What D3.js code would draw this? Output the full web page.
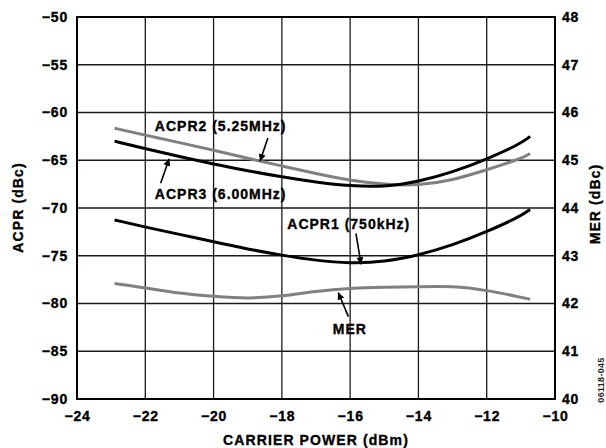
<!DOCTYPE html>
<html><head><meta charset="utf-8">
<script src="https://cdn.jsdelivr.net/npm/d3@7"></script>
<style>
body{margin:0;background:#fff;}
svg text{font-family:"Liberation Sans",Arial,Helvetica,sans-serif;font-weight:bold;}
.hv{stroke:#000;stroke-width:0.35px;}
</style></head>
<body><svg id="c" width="606" height="448"></svg>
<script>
// ---- data ----
const xTicks = [-24,-22,-20,-18,-16,-14,-12,-10];
const yTicks = [-50,-55,-60,-65,-70,-75,-80,-85,-90];
const merTicks = [48,47,46,45,44,43,42,41,40];
const power = [-22.9,-22,-21,-20,-19,-18,-17,-16,-15,-14,-13,-12,-11,-10.73];
const acpr2 = [-61.65,-62.36,-63.15,-63.95,-64.8,-65.6,-66.4,-67.1,-67.55,-67.65,-67.1,-66.0,-64.85,-64.3];
const acpr3 = [-63.0,-63.8,-64.6,-65.4,-66.1,-66.75,-67.3,-67.7,-67.8,-67.25,-66.25,-64.9,-63.25,-62.5];
const acpr1 = [-71.25,-72.0,-72.75,-73.55,-74.3,-74.95,-75.5,-75.8,-75.65,-74.95,-73.9,-72.5,-70.85,-70.14];
const mer   = [42.42,42.33,42.21,42.15,42.1,42.15,42.26,42.32,42.34,42.35,42.37,42.28,42.13,42.09];
const labels = [
  {text:"ACPR2 (5.25MHz)", x:-21.72, y:-61.9},
  {text:"ACPR3 (6.00MHz)", x:-21.72, y:-69.09},
  {text:"ACPR1 (750kHz)",  x:-17.84, y:-72.2},
  {text:"MER",             x:-16.51, y:-83.19}
];
const arrows = [
  {x1:-18.41, y1:-62.67, x2:-18.64, y2:-65.1},
  {x1:-21.55, y1:-67.41, x2:-21.30, y2:-64.85},
  {x1:-15.83, y1:-72.65, x2:-15.68, y2:-75.9},
  {x1:-16.05, y1:-81.38, x2:-16.35, y2:-78.85}
];

// ---- layout ----
const svg = d3.select("#c");
const L=77, R=555, T=17, B=399;
const x = d3.scaleLinear().domain([-24,-10]).range([L,R]);
const y = d3.scaleLinear().domain([-90,-50]).range([B,T]);
const y2 = d3.scaleLinear().domain([40,48]).range([B,T]);

// grid
const g = svg.append("g");
g.selectAll(".vg").data(xTicks.slice(1,-1)).enter().append("line")
  .attr("x1",d=>x(d)).attr("x2",d=>x(d)).attr("y1",T).attr("y2",B)
  .attr("stroke","#1a1a1a").attr("stroke-width",1.3);
g.selectAll(".hg").data(yTicks.slice(1,-1)).enter().append("line")
  .attr("y1",d=>y(d)).attr("y2",d=>y(d)).attr("x1",L).attr("x2",R)
  .attr("stroke","#1a1a1a").attr("stroke-width",1.3);

// axes (labels only)
function styleAxis(sel){
  sel.select(".domain").remove();
  sel.selectAll("line").remove();
  sel.selectAll("text").attr("font-size",14).attr("class","hv")
    .attr("letter-spacing","0.8px").attr("fill","#000");
}
svg.append("g").attr("transform",`translate(${L},0)`)
  .call(d3.axisLeft(y).tickValues(yTicks).tickSize(0).tickPadding(9)).call(styleAxis);
svg.append("g").attr("transform",`translate(${R},0)`)
  .call(d3.axisRight(y2).tickValues(merTicks).tickSize(0).tickPadding(7)).call(styleAxis);
svg.append("g").attr("transform",`translate(0,${B})`)
  .call(d3.axisBottom(x).tickValues(xTicks).tickSize(0).tickPadding(12)).call(styleAxis);

// curves
const line = d3.line().x((d,i)=>x(power[i])).curve(d3.curveBasis);
function drawCurve(vals, scale, color){
  svg.append("path").datum(vals)
    .attr("d", line.y(d=>scale(d)))
    .attr("fill","none").attr("stroke",color).attr("stroke-width",3)
    .attr("stroke-linecap","butt");
}
drawCurve(acpr2, y, "#808080");
drawCurve(acpr3, y, "#000");
drawCurve(acpr1, y, "#000");
drawCurve(mer, y2, "#808080");

// frame
svg.append("rect").attr("x",L).attr("y",T).attr("width",R-L).attr("height",B-T)
  .attr("fill","none").attr("stroke","#000").attr("stroke-width",2);

// annotations
svg.selectAll(".lab").data(labels).enter().append("text")
  .attr("class","hv")
  .attr("x",d=>x(d.x)).attr("y",d=>y(d.y))
  .attr("font-size",14).attr("letter-spacing","1px").text(d=>d.text);

const defs = svg.append("defs");
defs.append("marker").attr("id","ah").attr("viewBox","0 0 10 10")
  .attr("refX",10).attr("refY",5).attr("markerWidth",11).attr("markerHeight",7)
  .attr("markerUnits","userSpaceOnUse").attr("orient","auto")
  .append("path").attr("d","M0,0 L10,5 L0,10 Z").attr("fill","#000");
svg.selectAll(".arr").data(arrows).enter().append("line")
  .attr("x1",d=>x(d.x1)).attr("y1",d=>y(d.y1))
  .attr("x2",d=>x(d.x2)).attr("y2",d=>y(d.y2))
  .attr("stroke","#000").attr("stroke-width",1.6).attr("marker-end","url(#ah)");

// axis titles
svg.append("text").attr("class","hv").attr("transform",`translate(${(L+R)/2},445)`)
  .attr("text-anchor","middle").attr("font-size",14).attr("letter-spacing","1.1px")
  .text("CARRIER POWER (dBm)");
svg.append("text").attr("class","hv").attr("transform","translate(23,207.5) rotate(-90)")
  .attr("text-anchor","middle").attr("font-size",14).attr("letter-spacing","1.1px")
  .text("ACPR (dBc)");
svg.append("text").attr("class","hv").attr("transform","translate(600,204) rotate(-90)")
  .attr("text-anchor","middle").attr("font-size",14).attr("letter-spacing","1.1px")
  .text("MER (dBc)");
svg.append("text").attr("transform","translate(604,380) rotate(-90)")
  .attr("text-anchor","middle").attr("font-size",9).attr("font-weight","normal")
  .attr("letter-spacing","0.3px").attr("fill","#222")
  .text("06118-045");
</script></body></html>
